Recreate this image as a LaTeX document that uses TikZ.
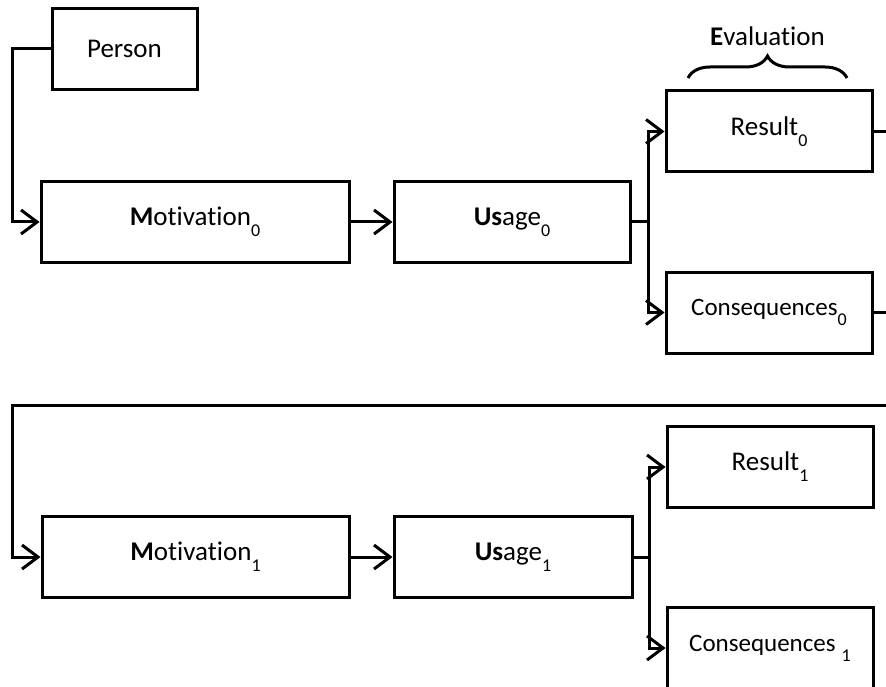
\documentclass[tikz,border=0pt]{standalone}
\usepackage{fontspec}
\setmainfont{Carlito}[Ligatures=NoCommon]
\usetikzlibrary{arrows.meta,decorations.pathreplacing}
\newcommand{\lowidx}[1]{\raisebox{-0.4em}{\fontsize{18}{18}\selectfont #1}}

\begin{document}
\begin{tikzpicture}[x=1pt,y=-1pt,
    box/.style={draw,line width=3pt,minimum height=81pt,inner sep=0pt,font=\fontsize{27}{32}\selectfont},
    small/.style={font=\fontsize{25}{30}\selectfont},
    link/.style={line width=3pt},
    flow/.style={link,-{Straight Barb[length=16pt,width=24pt]}}]
    \useasboundingbox (0,0) rectangle (886,687);
    % first round
    \node[box,minimum width=145pt] (person) at (124.5,49) {Person};
    \node[box,minimum width=308pt] (mot0) at (195,222) {\textbf{M}otivation\lowidx{0}};
    \node[box,minimum width=236pt] (use0) at (512,222) {\textbf{Us}age\lowidx{0}};
    \node[box,minimum width=206pt] (res0) at (769,131.5) {Result\lowidx{0}};
    \node[box,small,minimum width=206pt] (con0) at (769,312.5) {Consequences\lowidx{0}};
    \coordinate (start) at (12,49);
    \coordinate (fork0) at (648,222);
    \coordinate (outr) at (886,131.5);
    \coordinate (outc) at (886,312.5);
    \draw[flow] (person.west) -- (start) |- (mot0.west);
    \draw[flow] (mot0.east) -- (use0.west);
    \draw[link] (use0.east) -- (fork0);
    \draw[flow] (fork0) |- (res0.west);
    \draw[flow] (fork0) |- (con0.west);
    \draw[link] (res0.east) -- (outr);
    \draw[link] (con0.east) -- (outc);
    % evaluation brace
    \coordinate (evl) at (688,78);
    \coordinate (evr) at (847,78);
    \draw[link,decorate,decoration={brace,amplitude=22pt}] (evl) -- (evr);
    \node[font=\fontsize{27}{32}\selectfont] (eval) at (767.5,36) {\textbf{E}valuation};
    % second round
    \node[box,minimum width=307pt] (mot1) at (195.5,557) {\textbf{M}otivation\lowidx{1}};
    \node[box,minimum width=238pt] (use1) at (513,557) {\textbf{Us}age\lowidx{1}};
    \node[box,minimum width=206pt] (res1) at (770,467) {Result\lowidx{1}};
    \node[box,small,minimum width=206pt] (con1) at (770,648) {Consequences\hspace{6pt}\lowidx{1}};
    \coordinate (back) at (886,405);
    \coordinate (rail) at (12,405);
    \coordinate (fork1) at (649,557);
    \draw[flow] (back) -- (rail) |- (mot1.west);
    \draw[flow] (mot1.east) -- (use1.west);
    \draw[link] (use1.east) -- (fork1);
    \draw[flow] (fork1) |- (res1.west);
    \draw[flow] (fork1) |- (con1.west);
\end{tikzpicture}
\end{document}
